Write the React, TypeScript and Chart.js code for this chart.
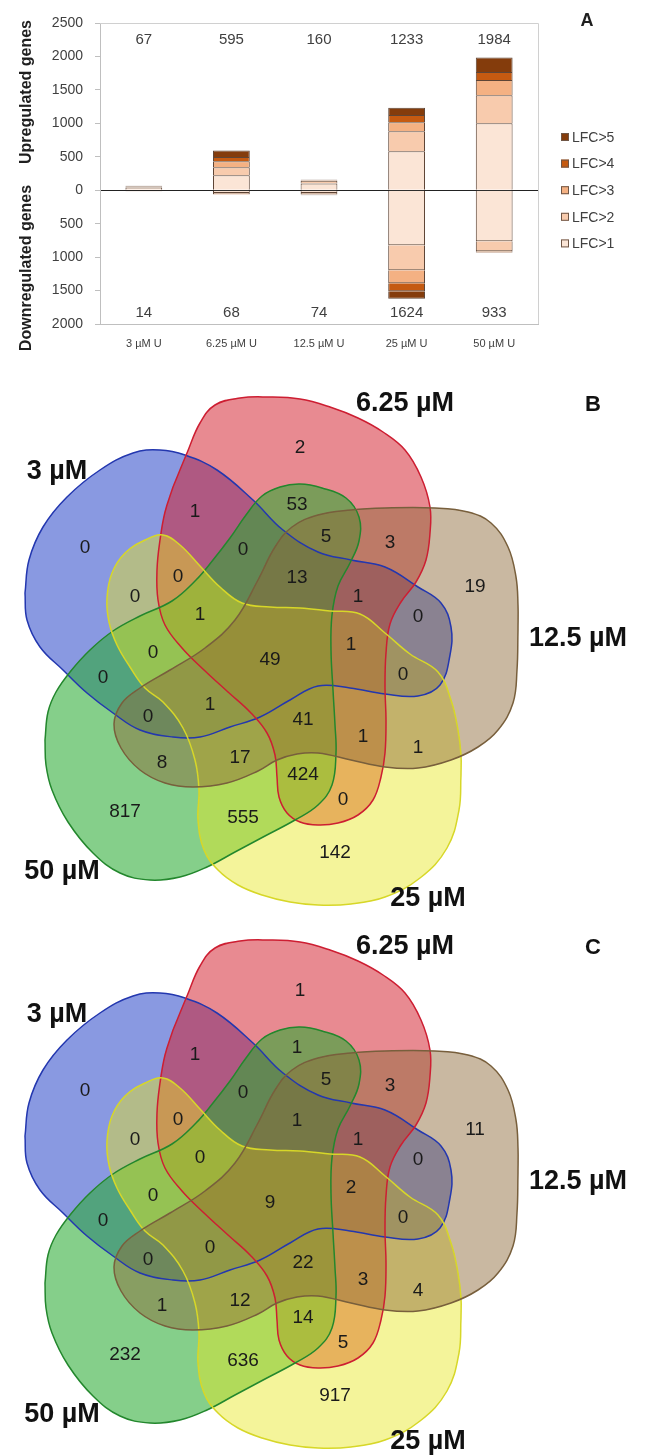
import React, { useEffect, useRef } from "react";
import { Chart, registerables } from "chart.js";
Chart.register(...registerables);

// ---------------- Panel A data ----------------
const categories = ["3 µM U", "6.25 µM U", "12.5 µM U", "25 µM U", "50 µM U"];
const lfcLabels = ["LFC>1", "LFC>2", "LFC>3", "LFC>4", "LFC>5"];
const upLFC1 = [40, 225, 100, 584, 1000];
const upLFC2 = [15, 120, 40, 299, 420];
const upLFC3 = [7, 90, 10, 135, 227];
const upLFC4 = [3, 60, 5, 105, 119];
const upLFC5 = [2, 100, 5, 110, 218];
const downLFC1 = [8, 40, 40, 823, 763];
const downLFC2 = [3, 15, 20, 375, 150];
const downLFC3 = [1, 7, 8, 194, 10];
const downLFC4 = [1, 3, 3, 120, 5];
const downLFC5 = [1, 3, 3, 112, 5];
const upTotals = [67, 595, 160, 1233, 1984];
const downTotals = [14, 68, 74, 1624, 933];
const yMin = -2000;
const yMax = 2500;
const yStep = 500;

// ---------------- Venn data ----------------
const setNames = ["3 µM", "6.25 µM", "12.5 µM", "25 µM", "50 µM"];
const regionCountsB = [2, 1, 53, 5, 3, 0, 0, 13, 0, 0, 1, 19, 1, 0, 0, 49, 0, 1, 41, 0, 8, 17, 424, 817, 555, 1, 0, 1, 1, 0, 142];
const regionCountsC = [1, 1, 1, 5, 3, 0, 0, 1, 0, 0, 0, 11, 1, 0, 0, 9, 0, 0, 22, 0, 1, 12, 14, 232, 636, 2, 0, 3, 4, 5, 917];

// ---------------- Venn geometry (layout, not data) ----------------
const regionPos = [
  [300, 448], [195, 512], [297, 505], [326, 537], [390, 543], [85, 548], [243, 550], [297, 578],
  [178, 577], [135, 597], [200, 615], [475, 587], [358, 597], [418, 617], [153, 653], [270, 660],
  [103, 678], [210, 705], [303, 720], [148, 717], [162, 763], [240, 758], [303, 775], [125, 812],
  [243, 818], [351, 645], [403, 675], [363, 737], [418, 748], [343, 800], [335, 853],
];
const setLabelPos = [[57, 479], [405, 411], [578, 646], [428, 906], [62, 879]];

const blueOutline = [[25,593],[29,560],[43,527],[67,497],[100,470],[133,453],[160,450],[185,455],[217,470],[253,500],[283,530],[318,552],[351,560],[385,567],[418,587],[441,603],[451,627],[450,655],[440,685],[418,696],[385,694],[350,688],[318,686],[290,700],[260,717],[230,727],[200,737],[173,737],[140,730],[113,713],[87,693],[63,670],[40,647],[27,620]];
const redOutline = [[173,487],[187,453],[200,423],[215,405],[240,398],[267,397],[300,399],[330,407],[358,418],[383,432],[405,450],[421,477],[430,507],[430,533],[426,560],[416,582],[401,602],[390,624],[386,653],[385,687],[386,720],[385,753],[381,777],[373,800],[358,815],[338,823],[318,825],[300,822],[287,813],[279,797],[277,777],[275,755],[267,733],[250,712],[228,692],[204,670],[182,648],[165,625],[158,600],[157,570],[160,540],[165,512]];
const brownOutline = [[518,630],[517,670],[513,703],[498,730],[478,747],[451,760],[418,768],[385,767],[351,760],[318,753],[297,754],[277,760],[258,771],[227,783],[193,787],[165,783],[140,770],[121,748],[114,724],[122,703],[140,688],[170,670],[205,648],[235,620],[258,580],[275,547],[292,527],[318,515],[351,510],[385,508],[435,508],[468,512],[491,523],[508,547],[516,577],[518,605]];
const yellowOutline = [[461,775],[459,810],[447,848],[420,878],[385,897],[351,904],[318,905],[290,902],[262,895],[238,885],[218,870],[204,850],[198,820],[199,790],[195,760],[183,728],[163,702],[145,688],[130,667],[117,645],[109,622],[107,598],[112,573],[125,553],[145,540],[163,535],[180,545],[200,566],[220,587],[242,603],[270,607],[300,608],[330,611],[360,614],[385,633],[410,654],[438,672],[451,700],[458,730],[461,755]];
const greenOutline = [[45,740],[48,712],[56,692],[70,672],[90,650],[113,631],[140,616],[172,601],[196,580],[213,560],[230,538],[246,515],[262,496],[280,487],[300,484],[322,488],[346,498],[359,517],[359,541],[350,563],[338,586],[332,615],[331,650],[333,690],[335,725],[336,753],[332,785],[318,805],[295,820],[265,836],[235,852],[207,867],[180,877],[150,880],[120,873],[93,853],[68,822],[52,790],[46,765]];

const FONT = '"Liberation Sans", Arial, sans-serif';

function BarPanel() {
  const ref = useRef<HTMLCanvasElement>(null);
  useEffect(() => {
    const colors = ["#FBE5D6", "#F8CBAD", "#F4B183", "#C55A11", "#843C0C"];
    const ups = [upLFC1, upLFC2, upLFC3, upLFC4, upLFC5];
    const downs = [downLFC1, downLFC2, downLFC3, downLFC4, downLFC5];
    const common = {
      borderColor: "#5e4536",
      borderWidth: 1,
      stack: "s",
      barPercentage: 0.42,
      categoryPercentage: 1,
    };
    const datasets: any[] = [];
    ups.forEach((d, i) => datasets.push({ ...common, label: lfcLabels[i], data: d, backgroundColor: colors[i] }));
    downs.forEach((d, i) =>
      datasets.push({ ...common, label: lfcLabels[i] + " down", data: d.map((v) => -v), backgroundColor: colors[i] })
    );

    const panelPlugin = {
      id: "panelA",
      afterDraw(chart: any) {
        const { ctx, chartArea: a, scales } = chart;
        const x = scales.x;
        const y = scales.y;
        ctx.save();
        ctx.strokeStyle = "#d0d0d0";
        ctx.lineWidth = 1;
        ctx.beginPath();
        ctx.moveTo(a.left, a.top + 0.5);
        ctx.lineTo(a.right + 0.5, a.top + 0.5);
        ctx.lineTo(a.right + 0.5, a.bottom);
        ctx.stroke();

        ctx.fillStyle = "#404040";
        ctx.font = `15px ${FONT}`;
        ctx.textAlign = "center";
        ctx.textBaseline = "middle";
        upTotals.forEach((v, i) => ctx.fillText(String(v), x.getPixelForValue(i), y.getPixelForValue(2250)));
        downTotals.forEach((v, i) => ctx.fillText(String(v), x.getPixelForValue(i), y.getPixelForValue(-1830)));

        ctx.fillStyle = "#1f1f1f";
        ctx.font = `bold 16px ${FONT}`;
        const titles: [string, number][] = [["Upregulated genes", 92], ["Downregulated genes", 268]];
        titles.forEach(([t, cy]) => {
          ctx.save();
          ctx.translate(27, cy);
          ctx.rotate(-Math.PI / 2);
          ctx.fillText(t, 0, 0);
          ctx.restore();
        });

        ctx.font = `bold 18px ${FONT}`;
        ctx.fillText("A", 587, 21);

        ctx.font = `14px ${FONT}`;
        ctx.textAlign = "left";
        for (let k = 0; k < 5; k++) {
          const idx = 4 - k;
          const cy = 137 + k * 26.6;
          ctx.fillStyle = colors[idx];
          ctx.fillRect(561, cy - 4, 8, 8);
          ctx.strokeStyle = "#6f5646";
          ctx.strokeRect(561.5, cy - 3.5, 7, 7);
          ctx.fillStyle = "#404040";
          ctx.fillText(lfcLabels[idx], 572, cy + 1);
        }
        ctx.restore();
      },
    };

    const chart = new Chart(ref.current as HTMLCanvasElement, {
      type: "bar",
      data: { labels: categories, datasets },
      options: {
        responsive: false,
        animation: false,
        events: [],
        layout: { padding: { top: 23, right: 110, left: 0, bottom: 0 } },
        plugins: { legend: { display: false }, tooltip: { enabled: false } },
        scales: {
          x: {
            stacked: true,
            grid: { display: false, drawTicks: false },
            border: { display: true, color: "#bfbfbf" },
            ticks: { color: "#404040", font: { size: 11, family: FONT }, padding: 13, maxRotation: 0, autoSkip: false },
            afterFit: (s: any) => {
              s.height = 26;
            },
          },
          y: {
            stacked: true,
            min: yMin,
            max: yMax,
            ticks: {
              stepSize: yStep,
              callback: (v: any) => String(Math.abs(Number(v))),
              color: "#404040",
              font: { size: 14, family: FONT },
              padding: 12,
            },
            grid: {
              color: (c: any) => (c.tick && c.tick.value === 0 ? "#222222" : "rgba(0,0,0,0)"),
              tickColor: "#bfbfbf",
              tickLength: 5,
              drawTicks: true,
            },
            border: { display: true, color: "#bfbfbf" },
            afterFit: (s: any) => {
              s.width = 100;
            },
          },
        },
      } as any,
      plugins: [panelPlugin],
    });
    return () => chart.destroy();
  }, []);
  return (
    <canvas ref={ref} width={648} height={350} style={{ position: "absolute", left: 0, top: 0, width: 648, height: 350 }} />
  );
}

function VennPanel({ top, counts, letter }: { top: number; counts: number[]; letter: string }) {
  const ref = useRef<HTMLCanvasElement>(null);
  useEffect(() => {
    const outlines = [blueOutline, redOutline, brownOutline, yellowOutline, greenOutline];
    const fills = [
      "rgba(40,70,200,0.55)",
      "rgba(210,30,45,0.52)",
      "rgba(140,105,55,0.47)",
      "rgba(230,230,30,0.45)",
      "rgba(40,170,50,0.57)",
    ];
    const strokes = ["rgb(35,55,175)", "rgb(205,30,50)", "rgb(120,95,60)", "rgb(215,215,40)", "rgb(35,135,45)"];
    // stacking: blue bottom, then red, green, yellow, brown on top (lower order = drawn later)
    const drawOrder = [4, 3, 0, 1, 2];
    const datasets = outlines.map((o, i) => ({
      label: setNames[i],
      data: [...o, o[0]].map(([x, y]) => ({ x, y })),
      showLine: true,
      fill: "shape",
      tension: 0.4,
      pointRadius: 0,
      borderWidth: 1.5,
      order: drawOrder[i],
      backgroundColor: fills[i],
      borderColor: strokes[i],
    }));

    const labelPlugin = {
      id: "vennLabels" + letter,
      afterDatasetsDraw(chart: any) {
        const { ctx, scales } = chart;
        const x = scales.x;
        const y = scales.y;
        ctx.save();
        ctx.fillStyle = "#1a1a1a";
        ctx.font = `19px ${FONT}`;
        ctx.textAlign = "center";
        ctx.textBaseline = "middle";
        counts.forEach((v, i) => {
          ctx.fillText(String(v), x.getPixelForValue(regionPos[i][0]), y.getPixelForValue(regionPos[i][1]));
        });
        ctx.fillStyle = "#111";
        ctx.font = `bold 27px ${FONT}`;
        ctx.textBaseline = "alphabetic";
        setNames.forEach((n, i) => {
          ctx.fillText(n, x.getPixelForValue(setLabelPos[i][0]), y.getPixelForValue(setLabelPos[i][1]));
        });
        ctx.font = `bold 22px ${FONT}`;
        ctx.fillText(letter, x.getPixelForValue(593), y.getPixelForValue(411));
        ctx.restore();
      },
    };

    const chart = new Chart(ref.current as HTMLCanvasElement, {
      type: "scatter",
      data: { datasets },
      options: {
        responsive: false,
        animation: false,
        events: [],
        layout: { padding: 0 },
        plugins: { legend: { display: false }, tooltip: { enabled: false }, filler: { drawTime: "beforeDatasetsDraw" } },
        scales: {
          x: { type: "linear", min: 0, max: 648, display: false },
          y: { type: "linear", min: 360, max: 912, reverse: true, display: false },
        },
      } as any,
      plugins: [labelPlugin],
    });
    return () => chart.destroy();
  }, [counts, letter]);
  return (
    <canvas ref={ref} width={648} height={552} style={{ position: "absolute", left: 0, top, width: 648, height: 552 }} />
  );
}

export default function App() {
  return (
    <div style={{ position: "absolute", left: 0, top: 0, width: 648, height: 1455, background: "#fff", overflow: "hidden" }}>
      <BarPanel />
      <VennPanel top={360} counts={regionCountsB} letter="B" />
      <VennPanel top={903} counts={regionCountsC} letter="C" />
    </div>
  );
}
